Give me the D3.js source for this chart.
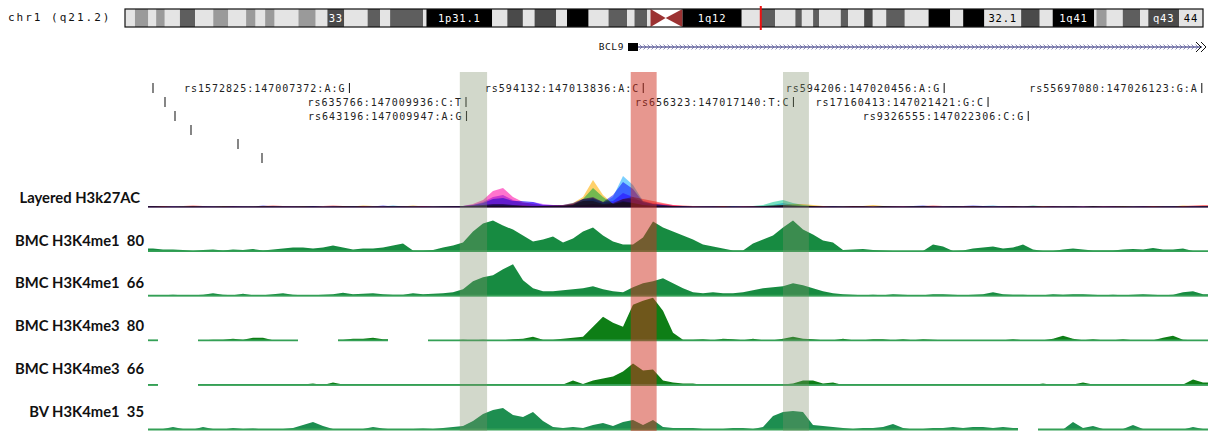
<!DOCTYPE html>
<html lang="en">
<head>
<meta charset="UTF-8">
<title>BCL9 region - chr1 q21.2</title>
<style>
  body { margin: 0; background: #ffffff; }
  svg { display: block; }
  .mono { font-family: "DejaVu Sans Mono", monospace; }
  .trackLabel { font-family: Lato, "Liberation Sans", sans-serif; font-weight: bold; font-size: 14.8px; white-space: pre; }
</style>
</head>
<body>
<svg id="chart" width="1216" height="431"></svg>
<script src="https://d3js.org/d3.v7.min.js"></script>
<script>
// ---- chromosome ideogram (hg19 chr1 cytobands) ----
const chromName = "chr1";
const chromLength = 249250621;
const bandNames = ["p36.33","p36.32","p36.31","p36.23","p36.22","p36.21","p36.13","p36.12","p36.11","p35.3","p35.2","p35.1","p34.3","p34.2","p34.1","p33","p32.3","p32.2","p32.1","p31.3","p31.2","p31.1","p22.3","p22.2","p22.1","p21.3","p21.2","p21.1","p13.3","p13.2","p13.1","p12","p11.2","p11.1","q11","q12","q21.1","q21.2","q21.3","q22","q23.1","q23.2","q23.3","q24.1","q24.2","q24.3","q25.1","q25.2","q25.3","q31.1","q31.2","q31.3","q32.1","q32.2","q32.3","q41","q42.11","q42.12","q42.13","q42.2","q42.3","q43","q44"];
const bandEnds = [2300000,5400000,7200000,9200000,12700000,16200000,20400000,23900000,28000000,30200000,32400000,34600000,40100000,44100000,46800000,50700000,56100000,59000000,61300000,68900000,69700000,84900000,88400000,92000000,94700000,99700000,102200000,107200000,111800000,116100000,117800000,120700000,121500000,125000000,128900000,142600000,147000000,150300000,155000000,156500000,159100000,160500000,165500000,167200000,170900000,172900000,176000000,180300000,185800000,190800000,193800000,198700000,207200000,211500000,214500000,224100000,224600000,227000000,230700000,234700000,236600000,243700000,249250621];
const bandStains = ["gneg","gpos25","gneg","gpos25","gneg","gpos50","gneg","gpos25","gneg","gpos25","gneg","gpos25","gneg","gpos25","gneg","gpos75","gneg","gpos50","gneg","gpos50","gneg","gpos100","gneg","gpos75","gneg","gpos75","gneg","gpos100","gneg","gpos50","gneg","gpos50","gneg","acen","acen","gvar","gneg","gpos50","gneg","gpos50","gneg","gpos50","gneg","gpos50","gneg","gpos75","gneg","gpos50","gneg","gpos100","gneg","gpos100","gneg","gpos75","gneg","gpos100","gneg","gpos25","gneg","gpos50","gneg","gpos75","gneg"];
const bandLabels = { "p33": "33", "p31.1": "1p31.1", "q12": "1q12", "q32.1": "32.1", "q41": "1q41", "q43": "q43", "q44": "44" };

// ---- view window ----
const viewStart = 147002940;
const binSize = 220;
const nBins = 106;

// ---- gene ----
const geneName = "BCL9";
const geneStart = 147013500;
const geneExonEnd = 147013720;

// ---- SNPs ----
const snpIds = ["rs1572825","rs635766","rs643196","rs594132","rs656323","rs594206","rs17160413","rs9326555","rs55697080"];
const snpPositions = [147007372,147009936,147009947,147013836,147017140,147020456,147021421,147022306,147026123];
const snpRef = ["A","C","A","A","T","A","G","C","G"];
const snpAlt = ["G","T","G","C","C","G","C","G","A"];
const unlabeledSnpPositions = [147003050,147003314,147003534,147003886,147004920,147005448];

// ---- highlighted regions ----
const highlightStarts = [147009800, 147013560, 147016910];
const highlightEnds = [147010400, 147014130, 147017480];
const highlightColors = ["#7f906a", "#d03020", "#7f906a"];
const highlightOpacity = [0.35, 0.5, 0.35];

// ---- layered H3K27Ac (ENCODE cell lines) ----
const layerNames = ["GM12878","H1-hESC","HSMM","HUVEC","K562","NHEK","NHLF"];
const layerColors = ["#ff6a6a","#ffc850","#5cdcb4","#64c8ff","#6464ff","#c264ff","#ff5cc4"];
const gm12878 = [1,1,0.5,1,1.5,1,0.5,1,1,0.5, 1,1,1.5,1,1,0.5,1,1,1.5,1, 1,1,0.5,1,1,1,0.5,1,1,1, 1,1,1.5,2,3,3,2,1.5,1,1, 1,1,3,6,6,3,4,8,10,8, 6,4,2,1.5,1,1,1,1,0.5,1, 1,1,1.5,2,1.5,1,1,1,1,1, 1,1,0.5,1,1,1,1,1,1.5,1, 1,1,1,1,1,0.5,1,1,1,1, 1,1,1,0.5,1,1,1,1,1,1, 1,1,1,1,1.5,2];
const h1hesc = [0.5,1,0.5,0.5,1,0.5,0.5,1,0.5,0.5, 0.5,1,0.5,0.5,0.5,1,0.5,0.5,0.5,1, 0.5,1.5,1,0.5,0.5,0.5,1.5,0.5,0.5,0.5, 0.5,0.5,1,1,1,1,1,1,0.5,1, 1.5,2,4,10,27,12,3,5,4,2, 1,1,1,0.5,0.5,0.5,0.5,1,0.5,0.5, 0.5,1,1.5,2,3,3,2,1,0.5,0.5, 1,1,2,1,0.5,0.5,0.5,1,0.5,0.5, 0.5,0.5,1,0.5,0.5,0.5,1,0.5,0.5,1, 0.5,0.5,0.5,0.5,1,0.5,0.5,1,0.5,0.5, 1,0.5,0.5,1.5,0.5,0.5];
const hsmm = [1,0.5,0.5,1,0.5,0.5,1,0.5,0.5,1, 0.5,0.5,1,0.5,0.5,1,0.5,0.5,0.5,0.5, 1,0.5,0.5,0.5,1,1,0.5,0.5,0.5,1, 1,0.5,1,1.5,2,2,1.5,1,1,1, 1,1,2,8,19,10,3,6,4,2, 1,1,0.5,0.5,0.5,0.5,0.5,0.5,1,0.5, 1,2,5,7,4,2,1,0.5,0.5,1, 0.5,0.5,0.5,1,0.5,0.5,1,0.5,0.5,0.5, 1,0.5,0.5,0.5,0.5,1,0.5,0.5,1.5,0.5, 0.5,0.5,1,0.5,0.5,0.5,0.5,1,0.5,0.5, 0.5,1,0.5,0.5,0.5,1];
const huvec = [0.5,0.5,1,0.5,0.5,1,0.5,1,0.5,0.5, 1,0.5,0.5,1,0.5,0.5,1,0.5,0.5,1, 0.5,0.5,1,0.5,1.5,0.5,0.5,0.5,1,0.5, 0.5,1,1,2,3,3,2,1,1,1, 1,1,2,6,8,4,10,31,22,6, 3,2,1,1,0.5,0.5,1,0.5,0.5,0.5, 0.5,1,2,4,2,1,1,0.5,1,0.5, 0.5,1,0.5,0.5,1,0.5,0.5,1,0.5,0.5, 1,0.5,0.5,1,1.5,0.5,0.5,1,0.5,0.5, 0.5,1,0.5,0.5,1,0.5,0.5,0.5,1,0.5, 0.5,0.5,1,0.5,0.5,1];
const k562 = [1,0.5,0.5,0.5,1,0.5,0.5,0.5,1,0.5, 0.5,1.5,0.5,0.5,1,0.5,1,0.5,1,0.5, 1,0.5,0.5,1.5,0.5,0.5,1,0.5,0.5,1, 1,1,2,4,8,9,6,6,5,2, 2,2,4,8,9,5,12,25,18,5, 3,2,1,1,0.5,1,0.5,0.5,1,0.5, 0.5,1,1,1.5,1,1,0.5,0.5,1,0.5, 1,0.5,0.5,1,0.5,0.5,1,1.5,0.5,1, 0.5,1,1.5,1,0.5,0.5,1,0.5,0.5,0.5, 1,0.5,0.5,0.5,1,0.5,1,0.5,0.5,1, 0.5,0.5,1,0.5,1,0.5];
const nhek = [0.5,1,0.5,0.5,0.5,1,0.5,0.5,1,0.5, 0.5,0.5,1,0.5,0.5,0.5,1,0.5,0.5,0.5, 0.5,1,0.5,0.5,0.5,1,0.5,1,0.5,0.5, 0.5,1,2,5,10,12,7,4,5,3, 2,2,3,8,10,5,6,14,10,4, 2,1.5,1,1,0.5,0.5,1,0.5,0.5,1, 0.5,0.5,1,1.5,1,0.5,0.5,1,0.5,0.5, 0.5,1,0.5,0.5,0.5,1,0.5,0.5,1,0.5, 1,0.5,0.5,1,0.5,1,1,0.5,0.5,0.5, 0.5,0.5,1,0.5,0.5,1,0.5,0.5,0.5,1, 0.5,1,0.5,0.5,1,0.5];
const nhlf = [1,0.5,1,0.5,0.5,0.5,1,0.5,0.5,1, 0.5,0.5,0.5,1,0.5,1,0.5,0.5,0.5,1, 0.5,0.5,1,0.5,0.5,0.5,0.5,1,0.5,0.5, 1,1,3,7,16,19,10,5,3,2, 2,1.5,1.5,2,3,2,3,8,8,6, 4,3,2,1,1,0.5,0.5,1,0.5,0.5, 1,0.5,0.5,1,1,0.5,1,0.5,0.5,0.5, 1,0.5,0.5,0.5,1,0.5,0.5,0.5,1,0.5, 0.5,1,0.5,0.5,0.5,1,0.5,0.5,1,0.5, 1,0.5,0.5,1,0.5,0.5,1,0.5,0.5,0.5, 1,0.5,0.5,1,0.5,1];
const layerValues = [gm12878, h1hesc, hsmm, huvec, k562, nhek, nhlf];

// ---- histone signal tracks (one value per 220 bp bin, null = no data) ----
const bmcMe1_80 = [3,2,2,1.5,0.5,1.5,2,1,2,1.5, 2.5,1,2,3,4,4,3,4,6,4, 2,3,3,4,6,8,1,1,1.5,4, 6,9,20,28,31,26,22,16,10,12, 15,9,13,20,24,16,10,7,7,14, 30,24,20,16,12,7,5,3,1,1, 8,12,16,24,31,22,17,11,9,1.5, 2,2.5,1.5,1,0.5,0.5,0.5,0.5,7,5, 0.5,1,3,4,5,3,4,7,2,0.5, 0.5,2,3,2,1,1,1,2,2.5,2, 3.5,2,2,3,0.5,0.5];
const bmcMe1_66 = [1,1,1.5,1,1,1.5,3,1.5,1,2.5, 1,1,2,3,1.5,1,1,1.5,2,3.5, 2,2.5,3,2,1.5,1.5,3,2,2.5,3, 4,7,15,19,21,27,32,16,8,5, 5,6,7,8,10,7,5,4,9,13, 15,18,13,8,4,3,4,3,3,4, 6,8,9,10,13,11,8,5,3,2, 1.5,1,1.5,1,2,1.5,1,1,2,2, 1.5,1,1.5,2,4,2,1.5,1.5,1,1, 2,1.5,2,2,1.5,1,1.5,1,1.5,2, 1.5,1,1.5,4,5,2];
const bmcMe3_80 = [0.5,null,null,null,null,0.5,1,1,2,1, 3,3,0.5,0.5,0.5,null,null,null,null,1, 2,2,3,1.5,null,null,null,null,0.5,0.5, 0.5,1,0.5,1,0.5,0.5,1.5,2,4,1, 1,2,3,4,14,24,18,14,36,40, 43,30,8,1,1,1.5,0.5,2,1.5,0.5, 2,0.5,0.5,2,4,2,1.5,0.5,0.5,2, 0.5,0.5,1.5,1.5,0.5,1.5,0.5,1.5,1,0.5, 0.5,0.5,0.5,0.5,0.5,0.5,1.5,0.5,0.5,0.5, 2,5,2,0.5,1.5,0.5,0.5,1.5,0.5,0.5, 0.5,3,5,1,0.5,0.5];
const bmcMe3_66 = [0.5,null,null,null,null,0.5,0.5,1,1,0.5, 1,0.5,0.5,0.5,0.5,1,2,0.5,3,1, 0.5,1,0.5,0.5,0.5,1,0.5,0.5,0.5,1, 0.5,1,0.5,0.5,1,0.5,0.5,0.5,1,0.5, 0.5,1,5,1.5,5,7,9,14,22,15, 16,5,3,2,2,0.5,0.5,0.5,0.5,0.5, 0.5,1.5,1.5,1,2,5,5,2,3,0.5, 0.5,1,0.5,1,0.5,1.5,0.5,0.5,1,0.5, 1,0.5,0.5,0.5,0.5,0.5,0.5,0.5,0.5,2, 0.5,0.5,1,3,1,0.5,1,0.5,1,0.5, 0.5,0.5,0.5,1,6,3];
const bvMe1_35 = [0.5,1,3,1,0.5,3,1,0.5,2,1, 1.5,0.5,0.5,1,2,5,8,4,1,0.5, 1,1,3,1.5,0.5,0.5,1,1.5,1,2, 3,4,9,16,20,22,15,13,18,9, 3,2,3,2,5,7,4,8,10,5, 10,3,2,2,2,1,1,1,2,2, 1,3,14,18,19,18,5,4,3,2, 1,2,2,3,6,2,0.5,1,2,2, 3,2,3,3,2,3,2,null,null,0.5, 0.5,0.5,8,2,4,1,0.5,1,5,1, 0.5,0.5,0.5,0.5,3,1];

const trackNames = ["BMC H3K4me1  80", "BMC H3K4me1  66", "BMC H3K4me3  80", "BMC H3K4me3  66", "BV H3K4me1  35"];
const trackValues = [bmcMe1_80, bmcMe1_66, bmcMe3_80, bmcMe3_66, bvMe1_35];
const trackColors = ["#178b41", "#178b41", "#0e7e16", "#0e7e16", "#1d8e50"];

// ---------------------------------------------------------------
const svg = d3.select("#chart");
const x = d3.scaleLinear().domain([viewStart, viewStart + nBins * binSize]).range([148, 1208]);
const signalMax = 44;

// ideogram
const bandStarts = [0].concat(bandEnds.slice(0, -1));
const bands = bandNames.map((name, i) => ({ name, start: bandStarts[i], end: bandEnds[i], stain: bandStains[i] }));
const stainFill = { gneg: "#e4e4e4", gpos25: "#9a9a9a", gpos50: "#5e5e5e", gpos75: "#4a4a4a", gpos100: "#000000", gvar: "#000000", acen: "#9c3232" };
const ideoX = d3.scaleLinear().domain([0, chromLength]).range([125, 1203]);
const ideoTop = 9, ideoH = 18;

const currentBand = bands.find(b => viewStart >= b.start && viewStart < b.end);
svg.append("text")
    .attr("class", "mono")
    .attr("x", 8).attr("y", 18)
    .attr("dominant-baseline", "middle")
    .attr("font-size", 11)
    .attr("letter-spacing", 2)
    .attr("fill", "#111")
    .text(`${chromName} (${currentBand.name})`);

const ideo = svg.append("g");
ideo.append("rect")
    .attr("x", ideoX(0)).attr("y", ideoTop)
    .attr("width", ideoX(chromLength) - ideoX(0)).attr("height", ideoH)
    .attr("fill", "#ffffff");

bands.forEach(b => {
    const x0 = ideoX(b.start), x1 = ideoX(b.end);
    if (b.stain === "acen") {
        const isP = b.name.startsWith("p");
        const pts = isP
            ? [[x0, ideoTop], [x1, ideoTop + ideoH / 2], [x0, ideoTop + ideoH]]
            : [[x1, ideoTop], [x0, ideoTop + ideoH / 2], [x1, ideoTop + ideoH]];
        ideo.append("polygon").attr("points", pts.map(p => p.join(",")).join(" ")).attr("fill", stainFill.acen);
    } else {
        ideo.append("rect")
            .attr("x", x0).attr("y", ideoTop)
            .attr("width", x1 - x0).attr("height", ideoH)
            .attr("fill", stainFill[b.stain]);
    }
    if (bandLabels[b.name]) {
        const dark = ["gpos75", "gpos100", "gvar", "gpos50"].includes(b.stain);
        ideo.append("text")
            .attr("class", "mono")
            .attr("x", (x0 + x1) / 2).attr("y", ideoTop + ideoH / 2 + 0.5)
            .attr("text-anchor", "middle")
            .attr("dominant-baseline", "middle")
            .attr("font-size", 10.5)
            .attr("letter-spacing", 0.8)
            .attr("fill", dark ? "#ffffff" : "#000000")
            .text(bandLabels[b.name]);
    }
});
ideo.append("rect")
    .attr("x", ideoX(0)).attr("y", ideoTop)
    .attr("width", ideoX(chromLength) - ideoX(0)).attr("height", ideoH)
    .attr("fill", "none").attr("stroke", "#111").attr("stroke-width", 1.2);

// current window marker
const markX = ideoX(viewStart);
ideo.append("rect")
    .attr("x", markX - 1).attr("y", ideoTop - 3)
    .attr("width", Math.max(2, ideoX(viewStart + nBins * binSize) - markX))
    .attr("height", ideoH + 6)
    .attr("fill", "#ee1111");

// gene model
const geneY = 47;
const gene = svg.append("g");
gene.append("text")
    .attr("class", "mono")
    .attr("x", x(geneStart) - 4).attr("y", geneY + 0.5)
    .attr("text-anchor", "end")
    .attr("dominant-baseline", "middle")
    .attr("font-size", 9.5)
    .attr("letter-spacing", 0.6)
    .attr("fill", "#111")
    .text(geneName);
gene.append("line")
    .attr("x1", x(geneExonEnd)).attr("x2", x.range()[1] - 6)
    .attr("y1", geneY).attr("y2", geneY)
    .attr("stroke", "#1b1b6e").attr("stroke-width", 1);
let chev = "";
for (let cx = x(geneExonEnd) + 3; cx < x.range()[1] - 10; cx += 4) {
    chev += `M${cx - 1.5},${geneY - 2.5}L${cx + 1},${geneY}L${cx - 1.5},${geneY + 2.5}`;
}
gene.append("path").attr("d", chev).attr("fill", "none").attr("stroke", "#5a5a9a").attr("stroke-width", 0.7);
gene.append("rect")
    .attr("x", x(geneStart)).attr("y", geneY - 4)
    .attr("width", x(geneExonEnd) - x(geneStart)).attr("height", 8)
    .attr("fill", "#000");
// continuation arrows at right edge
const endX = x.range()[1];
gene.append("path")
    .attr("d", `M${endX - 12},${geneY - 5}L${endX - 7},${geneY}L${endX - 12},${geneY + 5}M${endX - 7},${geneY - 5}L${endX - 2},${geneY}L${endX - 7},${geneY + 5}`)
    .attr("fill", "none").attr("stroke", "#111").attr("stroke-width", 1);

// SNP track with simple row packing
const charW = 7.02;
const rowY0 = 88, rowStep = 14;
const snpItems = unlabeledSnpPositions.map(p => ({ pos: p, label: null }))
    .concat(snpIds.map((id, i) => ({ pos: snpPositions[i], label: `${id}:${snpPositions[i]}:${snpRef[i]}:${snpAlt[i]}` })))
    .sort((a, b) => a.pos - b.pos);
const rowEnds = [];
snpItems.forEach(d => {
    const px = x(d.pos);
    const left = d.label ? px - 5 - d.label.length * charW : x.range()[0];
    let r = rowEnds.findIndex(e => e + 4 < left);
    if (r < 0) { r = rowEnds.length; rowEnds.push(0); }
    rowEnds[r] = px + 1;
    d.row = r; d.px = px;
});
const snpG = svg.append("g");
snpItems.forEach(d => {
    const cy = rowY0 + d.row * rowStep;
    snpG.append("line")
        .attr("x1", d.px).attr("x2", d.px)
        .attr("y1", cy - 5).attr("y2", cy + 5)
        .attr("stroke", "#222").attr("stroke-width", 1.1);
    if (d.label) {
        snpG.append("text")
            .attr("class", "mono")
            .attr("x", d.px - 4).attr("y", cy + 0.5)
            .attr("text-anchor", "end")
            .attr("dominant-baseline", "middle")
            .attr("font-size", 10)
            .attr("letter-spacing", 1)
            .attr("fill", "#222")
            .text(d.label);
    }
});

// helpers for binned signal
function runsOf(values) {
    const out = [];
    let cur = null;
    values.forEach((v, i) => {
        if (v == null) { cur = null; return; }
        if (!cur) { cur = []; out.push(cur); }
        cur.push({ i, v });
    });
    return out;
}
function runPoints(run) {
    const first = run[0], last = run[run.length - 1];
    const pts = [{ pos: viewStart + first.i * binSize, v: first.v }];
    run.forEach(d => pts.push({ pos: viewStart + (d.i + 0.5) * binSize, v: d.v }));
    pts.push({ pos: viewStart + (last.i + 1) * binSize, v: last.v });
    return pts;
}

const trackBase = k => 207 + 44.6 * k;
const labelY = k => 199 + 42.8 * k;

// layered H3K27Ac
const layered = svg.append("g").style("isolation", "isolate");
const layBase = trackBase(0);
const yLay = d3.scaleLinear().domain([0, signalMax]).range([layBase, layBase - signalMax]);
layered.append("line")
    .attr("x1", x.range()[0]).attr("x2", x.range()[1])
    .attr("y1", layBase + 0.3).attr("y2", layBase + 0.3)
    .attr("stroke", "#8a8d9a").attr("stroke-width", 0.8);
layerValues.forEach((vals, li) => {
    const area = d3.area().x(d => x(d.pos)).y0(layBase + 0.3).y1(d => yLay(d.v));
    runsOf(vals).forEach(run => {
        layered.append("path")
            .attr("d", area(runPoints(run)))
            .attr("fill", layerColors[li])
            .attr("fill-opacity", 0.85)
            .style("mix-blend-mode", "multiply");
    });
});

svg.append("text")
    .attr("class", "trackLabel")
    .attr("x", 140).attr("y", labelY(0))
    .attr("text-anchor", "end")
    .attr("dominant-baseline", "middle")
    .attr("fill", "#111")
    .text("Layered H3k27AC");

// signal tracks
trackValues.forEach((vals, t) => {
    const k = t + 1;
    const base = trackBase(k);
    const y = d3.scaleLinear().domain([0, signalMax]).range([base, base - signalMax]);
    const area = d3.area().x(d => x(d.pos)).y0(base).y1(d => y(d.v));
    const g = svg.append("g");
    runsOf(vals).forEach(run => {
        const pts = runPoints(run);
        g.append("path").attr("d", area(pts)).attr("fill", trackColors[t]);
        g.append("line")
            .attr("x1", x(pts[0].pos)).attr("x2", x(pts[pts.length - 1].pos))
            .attr("y1", base - 0.5).attr("y2", base - 0.5)
            .attr("stroke", "#34a056").attr("stroke-width", 1.8);
    });
    svg.append("text")
        .attr("class", "trackLabel")
        .attr("x", 144).attr("y", labelY(k))
        .attr("text-anchor", "end")
        .attr("dominant-baseline", "middle")
        .attr("fill", "#111")
        .text(trackNames[t]);
});

// highlighted regions on top
highlightStarts.forEach((s, i) => {
    svg.append("rect")
        .attr("x", x(s)).attr("y", 72)
        .attr("width", x(highlightEnds[i]) - x(s)).attr("height", 431 - 72)
        .attr("fill", highlightColors[i])
        .attr("fill-opacity", highlightOpacity[i]);
});
</script>
</body>
</html>
